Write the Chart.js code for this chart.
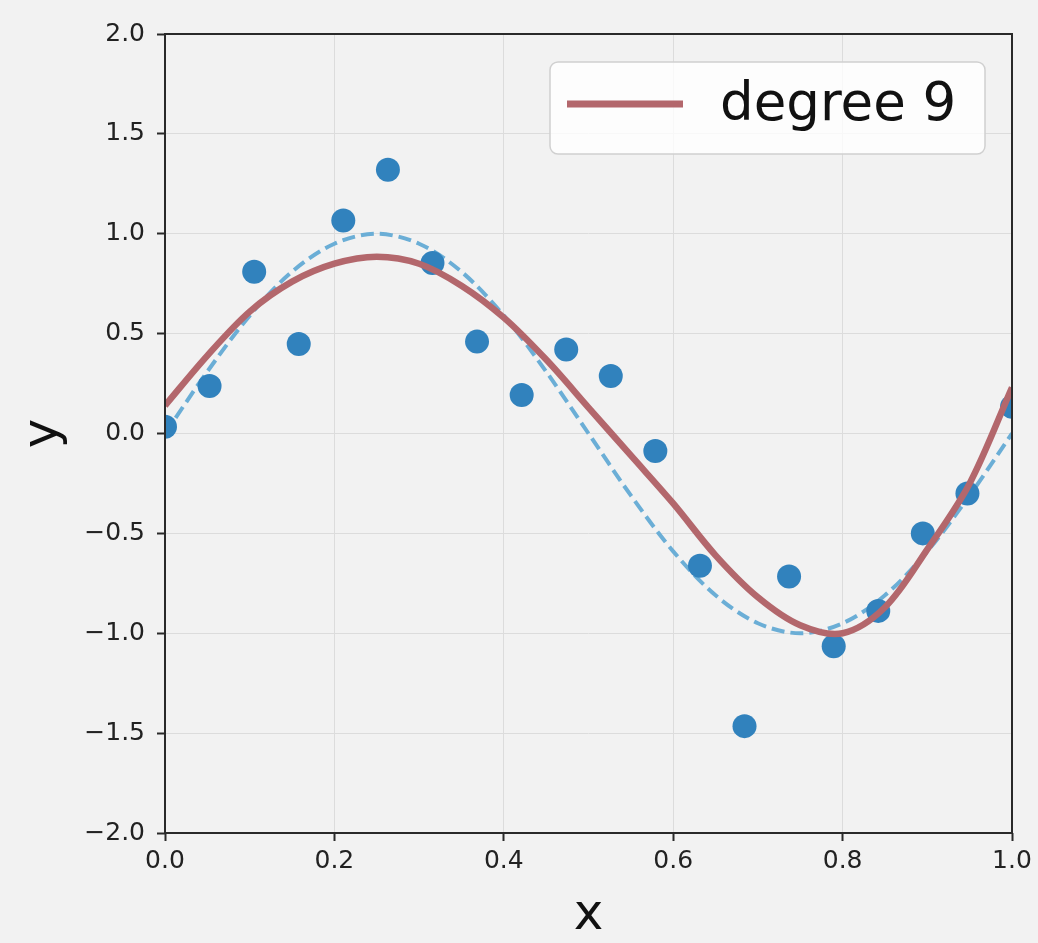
<!DOCTYPE html>
<html>
<head>
<meta charset="utf-8">
<script src="https://cdn.jsdelivr.net/npm/chart.js@4/dist/chart.umd.min.js"></script>
<style>
  html, body { margin: 0; padding: 0; background: #f2f2f2; }
  #wrap { width: 1038px; height: 943px; }
</style>
</head>
<body>
<div id="wrap"><canvas id="c" width="1038" height="943"></canvas></div>
<script>
// Noisy observations
const sampleX = [0.0, 0.0526, 0.1053, 0.1579, 0.2105, 0.2632, 0.3158, 0.3684, 0.4211, 0.4737,
                 0.5263, 0.5789, 0.6316, 0.6842, 0.7368, 0.7895, 0.8421, 0.8947, 0.9474, 1.0];
const sampleY = [0.034, 0.238, 0.81, 0.448, 1.066, 1.32, 0.853, 0.46, 0.193, 0.42,
                 0.288, -0.088, -0.662, -1.465, -0.716, -1.065, -0.888, -0.50, -0.30, 0.134];

// Curve grid shared by the true function and the fitted polynomial
const curveX = [0.0, 0.05, 0.1, 0.15, 0.2, 0.25, 0.3, 0.35, 0.4, 0.45, 0.5,
                0.55, 0.6, 0.65, 0.7, 0.75, 0.8, 0.85, 0.9, 0.95, 1.0];
const trueY = [0.0, 0.31, 0.59, 0.81, 0.95, 1.0, 0.95, 0.81, 0.59, 0.31, 0.0,
               -0.31, -0.59, -0.81, -0.95, -1.0, -0.95, -0.81, -0.59, -0.31, 0.0];
const fitY = [0.14, 0.39, 0.61, 0.76, 0.85, 0.885, 0.85, 0.74, 0.58, 0.37, 0.13,
              -0.11, -0.35, -0.61, -0.82, -0.96, -1.0, -0.87, -0.58, -0.25, 0.23];

const fitLabel = 'degree 9';
const xTickLabels = ['0.0', '0.2', '0.4', '0.6', '0.8', '1.0'];
const yTickLabels = ['\u22122.0', '\u22121.5', '\u22121.0', '\u22120.5', '0.0', '0.5', '1.0', '1.5', '2.0'];

const pts = (xs, ys) => xs.map((x, i) => ({ x: x, y: ys[i] }));

const FONT = "'DejaVu Sans', 'Liberation Sans', sans-serif";
const DOT = '#3182bd';
const DASH = '#6baed6';
const FIT = '#b3676c';

// Frame around the plotting area (all four spines)
const framePlugin = {
  id: 'frame',
  afterDatasetsDraw(chart) {
    const a = chart.chartArea, ctx = chart.ctx;
    ctx.save();
    ctx.strokeStyle = '#2a2a2a';
    ctx.lineWidth = 2;
    ctx.strokeRect(a.left, a.top, a.right - a.left, a.bottom - a.top);
    ctx.restore();
  }
};

// Legend box in the upper-right corner of the plotting area
const insetLegend = {
  id: 'insetLegend',
  afterDraw(chart) {
    const a = chart.chartArea, ctx = chart.ctx;
    const ds = chart.data.datasets.find(d => d.label);
    const w = 435, h = 92, r = 8;
    const x0 = a.right - 27 - w, y0 = a.top + 28;
    ctx.save();
    ctx.beginPath();
    ctx.roundRect(x0, y0, w, h, r);
    ctx.fillStyle = 'rgba(255,255,255,0.8)';
    ctx.fill();
    ctx.strokeStyle = '#d0d0d0';
    ctx.lineWidth = 1.5;
    ctx.stroke();
    const cy = y0 + h / 2 - 4;
    ctx.beginPath();
    ctx.moveTo(x0 + 17, cy);
    ctx.lineTo(x0 + 133, cy);
    ctx.strokeStyle = ds.borderColor;
    ctx.lineWidth = 7;
    ctx.stroke();
    ctx.fillStyle = '#111';
    ctx.font = '53px ' + FONT;
    ctx.textAlign = 'left';
    ctx.textBaseline = 'alphabetic';
    ctx.fillText(ds.label, x0 + 170, y0 + 58);
    ctx.restore();
  }
};

new Chart(document.getElementById('c'), {
  type: 'scatter',
  data: {
    datasets: [
      {
        type: 'line',
        label: fitLabel,
        data: pts(curveX, fitY),
        borderColor: FIT,
        borderWidth: 6.5,
        pointRadius: 0,
        tension: 0.33,
        fill: false,
        clip: 0,
        order: 0
      },
      {
        data: pts(sampleX, sampleY),
        backgroundColor: DOT,
        borderWidth: 0,
        pointRadius: 12,
        pointHoverRadius: 12,
        clip: 0,
        order: 1
      },
      {
        type: 'line',
        data: pts(curveX, trueY),
        borderColor: DASH,
        borderWidth: 4,
        borderDash: [13, 6],
        pointRadius: 0,
        tension: 0.33,
        fill: false,
        clip: 0,
        order: 2
      }
    ]
  },
  options: {
    responsive: false,
    animation: false,
    events: [],
    layout: { padding: { top: 34, right: 26, left: 0, bottom: 0 } },
    plugins: { legend: { display: false }, tooltip: { enabled: false } },
    scales: {
      x: {
        type: 'linear',
        min: 0, max: 1,
        grid: { color: '#dcdcdc', lineWidth: 1, tickColor: '#2a2a2a', tickWidth: 2, tickLength: 8 },
        border: { display: false },
        ticks: {
          stepSize: 0.2,
          autoSkip: false,
          maxRotation: 0,
          padding: 5,
          color: '#222',
          font: { family: FONT, size: 25 },
          callback: (v, i) => xTickLabels[i]
        },
        title: { display: true, text: 'x', color: '#111', font: { family: FONT, size: 50 }, padding: { top: 0, bottom: -3 } },
        afterFit(s) { s.height = 110; }
      },
      y: {
        type: 'linear',
        min: -2, max: 2,
        grid: { color: '#dcdcdc', lineWidth: 1, tickColor: '#2a2a2a', tickWidth: 2, tickLength: 8 },
        border: { display: false },
        ticks: {
          stepSize: 0.5,
          autoSkip: false,
          padding: 12,
          color: '#222',
          font: { family: FONT, size: 25 },
          callback: (v, i) => yTickLabels[i]
        },
        title: { display: true, text: 'y', color: '#111', font: { family: FONT, size: 50 }, padding: { top: 14, bottom: 0 } },
        afterFit(s) { s.width = 165; }
      }
    }
  },
  plugins: [framePlugin, insetLegend]
});
</script>
</body>
</html>
